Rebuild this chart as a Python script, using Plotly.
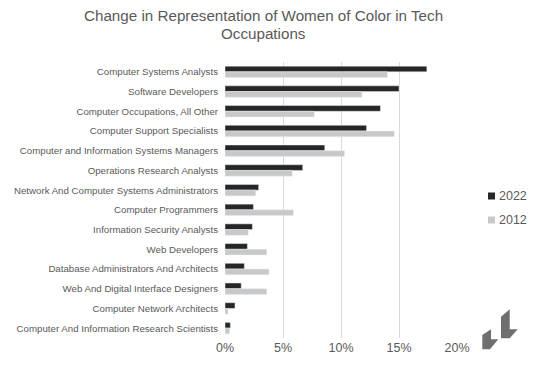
import plotly.graph_objects as go

categories = [
    "Computer Systems Analysts",
    "Software Developers",
    "Computer Occupations, All Other",
    "Computer Support Specialists",
    "Computer and Information Systems Managers",
    "Operations Research Analysts",
    "Network And Computer Systems Administrators",
    "Computer Programmers",
    "Information Security Analysts",
    "Web Developers",
    "Database Administrators And Architects",
    "Web And Digital Interface Designers",
    "Computer Network Architects",
    "Computer And Information Research Scientists",
]
series_names = ["2022", "2012"]
values_2022 = [0.174, 0.150, 0.134, 0.122, 0.086, 0.067, 0.029, 0.0245, 0.0236, 0.0193, 0.0167, 0.014, 0.0086, 0.0046]
values_2012 = [0.140, 0.118, 0.077, 0.146, 0.103, 0.058, 0.0265, 0.059, 0.020, 0.036, 0.038, 0.036, 0.0026, 0.004]
tick_vals = [0, 0.05, 0.10, 0.15, 0.20]
tick_text = ["0%", "5%", "10%", "15%", "20%"]
title_lines = ["Change in Representation of Women of Color in Tech", "Occupations"]

# page has an 8px body margin; work in page pixel coordinates and subtract it
OFF = 8
W, H = 537 - OFF, 366 - OFF
PL, PR, PT, PB = 225, 457, 62, 338  # plot area in page pixels
L, R, T, B = PL - OFF, W - (PR - OFF), PT - OFF, H - (PB - OFF)
pw, ph = PR - PL, PB - PT

def px(x, y):
    return (x - PL) / pw, (PB - y) / ph

FONT = "Liberation Sans, Arial, sans-serif"
TXT = "#595959"
colors = ["#262626", "#c8c8c8"]

fig = go.Figure()
for name, vals, col in zip(series_names, [values_2022, values_2012], colors):
    fig.add_trace(go.Bar(y=categories, x=vals, name=name, orientation="h",
                         marker=dict(color=col), showlegend=False))

def poly(pts):
    p = [px(x, y) for x, y in pts]
    return "M " + " L ".join(f"{a:.4f},{b:.4f}" for a, b in p) + " Z"

shapes = []
for pts in [
    [(482.3, 335), (491, 329.3), (491, 339.3), (498.3, 339.3), (490, 349.3), (482.3, 349.3)],
    [(501, 316.7), (509.7, 309.3), (509.7, 329.3), (517.7, 329.3), (509.7, 338.3), (501, 338.3)],
]:
    shapes.append(dict(type="path", xref="paper", yref="paper", path=poly(pts),
                       fillcolor="#6f6f6f", line=dict(width=0)))

annotations = []
for i, line in enumerate(title_lines):
    ax, ay = px(263, 15.5 + 18 * i)
    annotations.append(dict(text=line, xref="paper", yref="paper", x=ax, y=ay,
                            xanchor="center", yanchor="middle", showarrow=False,
                            borderpad=0, font=dict(size=15.2, color=TXT, family=FONT)))

# manual legend
for i, (name, col) in enumerate(zip(series_names, colors)):
    yc = 196 + i * 24
    x0, y0 = px(488, yc - 3.5)
    x1, y1 = px(495, yc + 3.5)
    shapes.append(dict(type="rect", xref="paper", yref="paper", x0=x0, x1=x1, y0=y1, y1=y0,
                       fillcolor=col, line=dict(width=0)))
    ax, ay = px(496.5, yc)
    annotations.append(dict(text=name, xref="paper", yref="paper", x=ax, y=ay,
                            xanchor="left", yanchor="middle", showarrow=False,
                            font=dict(size=12.5, color=TXT, family=FONT)))

fig.update_layout(
    width=W, height=H,
    margin=dict(l=L, r=R, t=T, b=B, pad=0, autoexpand=False),
    paper_bgcolor="white", plot_bgcolor="white",
    barmode="group", bargap=0.42, bargroupgap=0,
    font=dict(family=FONT, color=TXT, size=10),
    showlegend=False,
    xaxis=dict(range=[0, 0.2], tickvals=tick_vals, ticktext=tick_text, automargin=False,
               showgrid=True, gridcolor="#d9d9d9", gridwidth=1, zeroline=False,
               showline=False, ticks="", tickfont=dict(size=12.5, color=TXT)),
    yaxis=dict(autorange="reversed", showgrid=False, showline=False, ticks="", automargin=False,
               tickfont=dict(size=9.7, color=TXT), ticklabelstandoff=6),
    shapes=shapes,
    annotations=annotations,
)

fig.write_html("out.html")
